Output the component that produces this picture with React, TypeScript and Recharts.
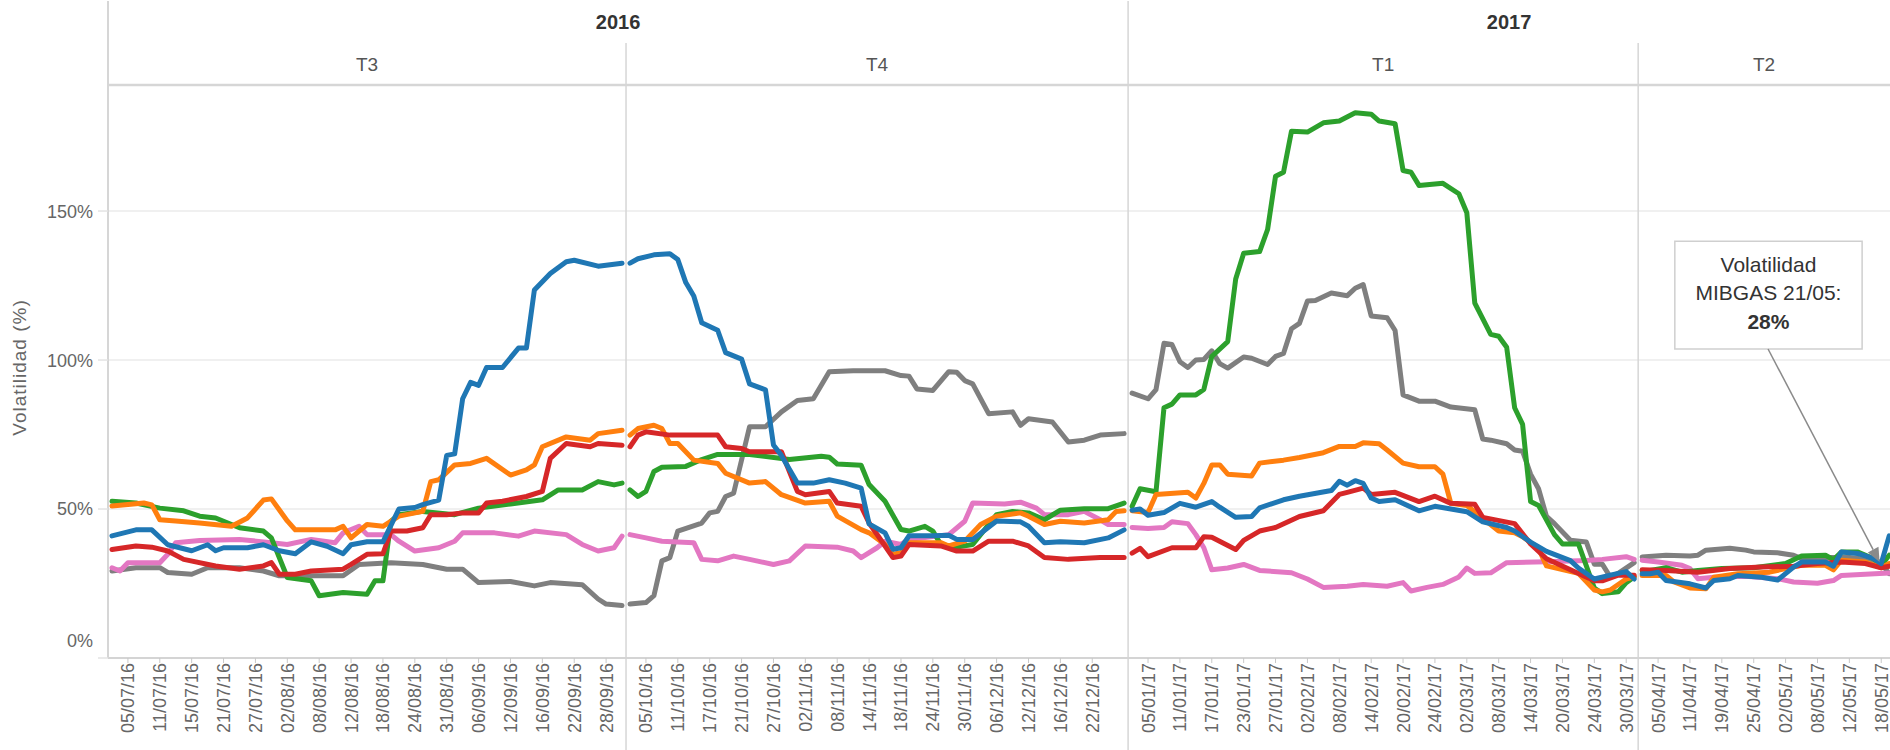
import React from 'react';
import { LineChart, Line, XAxis, YAxis, CartesianGrid, ReferenceLine, ReferenceArea } from 'recharts';

const FONT = '"Liberation Sans", Arial, sans-serif';

const years = ['2016', '2017'];
const quarters = ['T3', 'T4', 'T1', 'T2'];
// trading days (slots) shown in each quarter pane
const paneSizes = [65, 63, 64, 32];

const tickLabelsT3 = ['05/07/16', '11/07/16', '15/07/16', '21/07/16', '27/07/16', '02/08/16', '08/08/16', '12/08/16', '18/08/16', '24/08/16', '31/08/16', '06/09/16', '12/09/16', '16/09/16', '22/09/16', '28/09/16'];
const tickLabelsT4 = ['05/10/16', '11/10/16', '17/10/16', '21/10/16', '27/10/16', '02/11/16', '08/11/16', '14/11/16', '18/11/16', '24/11/16', '30/11/16', '06/12/16', '12/12/16', '16/12/16', '22/12/16'];
const tickLabelsT1 = ['05/01/17', '11/01/17', '17/01/17', '23/01/17', '27/01/17', '02/02/17', '08/02/17', '14/02/17', '20/02/17', '24/02/17', '02/03/17', '08/03/17', '14/03/17', '20/03/17', '24/03/17', '30/03/17'];
const tickLabelsT2 = ['05/04/17', '11/04/17', '19/04/17', '25/04/17', '02/05/17', '08/05/17', '12/05/17', '18/05/17'];

type Pt = [number, number];

// [slot within quarter, volatility %]
const blueT3: Pt[] = [[0, 41], [3, 43], [5, 43], [7, 38], [10, 36], [12, 38], [13, 36], [14, 37], [17, 37], [19, 38], [21, 36], [23, 35], [25, 39], [27, 37.5], [29, 35], [30, 38], [32, 39], [34, 39], [36, 50], [38, 50.5], [39, 51.5], [41, 53], [42, 68], [43, 68.5], [44, 87], [45, 92.5], [46, 91.5], [47, 97.5], [49, 97.5], [51, 104], [52, 104], [53, 123.5], [55, 129], [57, 133], [58, 133.5], [61, 131.5], [64, 132.5]];
const blueT4: Pt[] = [[0, 132.5], [1, 134], [3, 135.3], [5, 135.7], [6, 133.7], [7, 126], [8, 121.5], [9, 112.5], [11, 110], [12, 102.5], [14, 100.3], [15, 92], [17, 90], [18, 71.5], [19, 68], [21, 58.7], [23, 58.7], [25, 59.8], [27, 58.7], [29, 57], [30, 45], [32, 42], [33, 36.5], [34, 37], [35, 41], [38, 41], [40, 41.2], [41, 39.8], [43, 39.8], [46, 46], [49, 45.7], [50, 44.2], [52, 38.7], [54, 39], [57, 38.7], [60, 40.3], [62, 43]];
const blueT1: Pt[] = [[0, 49.6], [1, 50], [2, 47.9], [4, 48.8], [6, 51.9], [8, 50.6], [10, 52.5], [11, 50.6], [13, 47.2], [15, 47.5], [16, 50.4], [19, 53.1], [21, 54.3], [25, 56.2], [26, 59.3], [27, 58], [28, 59.5], [29, 58.6], [30, 53.7], [31, 52.5], [33, 53.1], [36, 49.4], [38, 50.9], [42, 49.1], [44, 45.7], [47, 43.8], [48, 42.6], [50, 38.9], [52, 35.8], [55, 32.7], [56, 30.2], [58, 26.5], [60, 27.8], [62, 29], [63, 26.5]];
const blueT2: Pt[] = [[0, 28.3], [1, 28.3], [2, 28.8], [3, 26], [6, 24.9], [8, 23.5], [9, 26], [11, 26.6], [12, 27.7], [15, 27.1], [17, 26.2], [19, 30.5], [20, 32.2], [23, 32.2], [24, 30.8], [25, 35.6], [27, 35.1], [29, 33.4], [30, 31.7], [31, 41]];

const orangeT3: Pt[] = [[0, 51], [4, 52], [5, 51.4], [6, 46.4], [8, 46], [11, 45.3], [15, 44.2], [17, 47], [19, 53], [20, 53.4], [22, 46], [23, 43], [28, 43], [29, 44.2], [30, 40.3], [32, 44.8], [34, 44.2], [36, 47.6], [39, 49.2], [40, 59.2], [41, 59.8], [43, 64.8], [45, 65.3], [47, 67], [50, 61.4], [52, 63.1], [53, 64.8], [54, 70.9], [57, 74.2], [60, 73.1], [61, 75.3], [64, 76.4]];
const orangeT4: Pt[] = [[0, 74.8], [1, 77], [3, 78.1], [4, 77], [5, 72], [6, 72], [8, 66.4], [11, 65.3], [12, 62], [15, 58.7], [17, 59.2], [19, 54.8], [22, 52], [25, 52.6], [26, 47.6], [29, 43.1], [30, 42], [32, 38.1], [33, 34.8], [34, 35.3], [35, 38.7], [39, 38.7], [40, 37.6], [42, 39.2], [44, 44.8], [46, 47.6], [49, 48.7], [50, 47.6], [52, 44.8], [54, 45.9], [57, 45.3], [60, 46.4], [61, 49.2], [62, 49.4]];
const orangeT1: Pt[] = [[0, 49.4], [2, 48.8], [3, 54.9], [7, 55.6], [8, 53.7], [9, 58.6], [10, 64.8], [11, 64.8], [12, 61.7], [15, 61.1], [16, 65.4], [19, 66.4], [21, 67.3], [24, 68.9], [26, 71], [28, 71], [29, 72.2], [31, 71.9], [32, 69.8], [34, 65.4], [36, 64.2], [38, 64.2], [39, 61.7], [40, 51.9], [42, 51.2], [44, 46.9], [46, 42.6], [48, 42], [49, 40.7], [51, 36.8], [52, 30.9], [56, 28.4], [58, 22.8], [59, 22.2], [60, 22.8], [62, 26.5], [63, 27.2]];
const orangeT2: Pt[] = [[0, 27.7], [3, 27.7], [4, 25.5], [6, 23.5], [8, 23.2], [9, 27.1], [12, 28.3], [16, 28.8], [18, 30], [20, 31.1], [23, 31.1], [24, 29.6], [25, 32.8], [28, 32.2], [30, 30.3], [31, 31.7]];

const greenT3: Pt[] = [[0, 52.6], [3, 52], [6, 50.3], [9, 49.4], [11, 47.6], [13, 47], [16, 43.7], [19, 42.6], [20, 40.3], [22, 27], [25, 25.9], [26, 20.9], [29, 22], [32, 21.4], [33, 25.9], [34, 25.9], [35, 45.9], [36, 48.1], [39, 49.2], [43, 48.1], [46, 50.3], [50, 51.7], [54, 53.1], [56, 56.4], [59, 56.4], [61, 59.2], [63, 58.1], [64, 58.7]];
const greenT4: Pt[] = [[0, 56.4], [1, 54.2], [2, 55.9], [3, 62.6], [4, 64], [7, 64.3], [9, 66.6], [11, 68.3], [15, 68.3], [20, 66.6], [24, 67.7], [25, 67.4], [26, 65.1], [29, 64.7], [30, 58.2], [32, 52.6], [34, 43.1], [35, 42.6], [37, 44.2], [38, 42.6], [39, 38.1], [41, 37.2], [43, 38.1], [46, 48.1], [48, 49.2], [50, 48.7], [52, 46.4], [54, 49.6], [57, 50.1], [60, 50.1], [62, 52]];
const greenT1: Pt[] = [[0, 50.9], [1, 56.8], [3, 55.8], [4, 84], [5, 85.2], [6, 88.3], [8, 88.3], [9, 90.1], [10, 101.2], [12, 106.2], [13, 127.2], [14, 135.8], [16, 136.4], [17, 143.8], [18, 161.7], [19, 163], [20, 176.8], [22, 176.5], [24, 179.6], [26, 180.2], [28, 183], [30, 182.5], [31, 180.2], [33, 179.3], [34, 163.6], [35, 163], [36, 158.6], [39, 159.3], [41, 155.8], [42, 149.4], [43, 119.1], [45, 108.6], [46, 108], [47, 104.3], [48, 84], [49, 78.4], [50, 52.5], [51, 51.2], [53, 41.4], [54, 38.3], [56, 38.3], [58, 23.5], [59, 21.6], [61, 22.2], [62, 25.3], [63, 27.2]];
const greenT2: Pt[] = [[0, 29.4], [1, 29.4], [3, 30.3], [5, 28.8], [7, 29.4], [10, 30], [14, 30.3], [18, 31.7], [20, 34.2], [23, 34.5], [24, 33], [25, 35.6], [27, 35.6], [29, 33.4], [30, 31.1], [31, 34.5]];

const redT3: Pt[] = [[0, 36.4], [3, 37.6], [5, 37.2], [7, 35.9], [9, 33.1], [13, 30.9], [16, 29.8], [19, 30.9], [20, 32], [21, 28.1], [23, 28.1], [25, 29.2], [29, 29.8], [30, 31.4], [32, 34.8], [34, 35], [35, 42.6], [37, 42.6], [39, 43.7], [40, 48.1], [42, 48.1], [44, 48.7], [46, 48.7], [47, 52], [49, 52.6], [52, 54.2], [54, 55.9], [55, 67], [57, 72], [60, 70.9], [61, 72], [64, 71.4]];
const redT4: Pt[] = [[0, 70.9], [1, 74.8], [2, 75.9], [5, 74.8], [11, 74.8], [12, 70.9], [14, 70.3], [15, 69.2], [19, 69.2], [21, 55.9], [22, 54.8], [25, 55.9], [26, 52], [29, 50.9], [30, 45.3], [32, 37.6], [33, 33.7], [34, 34.2], [35, 38.1], [39, 37.6], [41, 35.9], [43, 35.9], [45, 39.2], [48, 39.2], [50, 37.6], [52, 33.7], [55, 33.1], [59, 33.7], [62, 33.7]];
const redT1: Pt[] = [[0, 35.2], [1, 36.8], [2, 34], [5, 37], [8, 37], [9, 40.7], [10, 40.5], [13, 36.4], [14, 39.5], [16, 42.6], [18, 43.8], [21, 47.5], [24, 49.4], [26, 54.9], [27, 55.6], [29, 57], [30, 54.9], [33, 55.6], [36, 52.5], [38, 54.3], [40, 51.9], [43, 51.6], [44, 47.2], [48, 45.1], [50, 38.3], [52, 33.3], [55, 29.6], [58, 25.9], [59, 25.9], [61, 27.8], [63, 27.8]];
const redT2: Pt[] = [[0, 29.6], [3, 29.4], [7, 28.8], [11, 30], [15, 30.5], [19, 30.8], [22, 31.7], [25, 32.2], [28, 31.7], [30, 30.3], [31, 30.8]];

const pinkT3: Pt[] = [[0, 30.3], [1, 29.2], [2, 32], [6, 32], [7, 34.8], [8, 38.7], [11, 39.4], [16, 39.8], [20, 38.7], [22, 38.1], [25, 39.8], [28, 38.7], [29, 42], [31, 44.2], [32, 41.4], [35, 41.4], [36, 39.2], [38, 35.9], [41, 37], [43, 39.2], [44, 42], [48, 42], [51, 40.9], [53, 42.6], [57, 41.4], [59, 38.1], [61, 35.9], [63, 37], [64, 40.9]];
const pinkT4: Pt[] = [[0, 41.4], [2, 40.3], [4, 39.2], [8, 38.7], [9, 33.1], [11, 32.6], [13, 34.2], [15, 33.1], [18, 31.4], [20, 32.6], [22, 37.6], [26, 37.2], [28, 35.9], [29, 33.7], [31, 37], [32, 39.2], [34, 38.1], [35, 39.8], [40, 41.4], [42, 45.9], [43, 52], [47, 51.7], [49, 52.3], [51, 50.3], [52, 48.1], [55, 48.1], [57, 49.2], [59, 46.4], [60, 44.8], [62, 44.8]];
const pinkT1: Pt[] = [[0, 43.8], [2, 43.5], [4, 43.8], [5, 45.7], [7, 45.1], [8, 41.4], [9, 37], [10, 29.6], [12, 30.2], [14, 31.4], [16, 29.4], [20, 28.6], [22, 26.5], [24, 23.7], [27, 24.1], [29, 24.7], [32, 24.1], [34, 25.3], [35, 22.5], [37, 23.7], [39, 24.7], [41, 27.2], [42, 30.2], [43, 28.4], [45, 28.6], [47, 32], [52, 32.3], [57, 32.7], [59, 33.1], [62, 34], [63, 33.1]];
const pinkT2: Pt[] = [[0, 32.8], [2, 32.2], [5, 31.1], [6, 30], [7, 26.6], [9, 27.1], [13, 27.4], [17, 26.6], [19, 25.5], [22, 25.1], [24, 26], [25, 27.7], [28, 28.1], [31, 28.5]];

const greyT3: Pt[] = [[0, 29.2], [3, 30.3], [6, 30.3], [7, 28.7], [10, 28.1], [12, 30.3], [16, 30.3], [19, 29.2], [21, 27.6], [29, 27.6], [31, 31.4], [35, 32], [39, 31.4], [42, 29.8], [44, 29.8], [46, 25.3], [50, 25.7], [53, 24.2], [55, 25.3], [59, 24.6], [61, 19.8], [62, 18.1], [64, 17.6]];
const greyT4: Pt[] = [[0, 18.1], [2, 18.6], [3, 20.9], [4, 32.6], [5, 33.7], [6, 42.6], [9, 45.3], [10, 48.7], [11, 49.2], [12, 54.2], [13, 55.3], [15, 77.6], [17, 77.6], [19, 82.6], [21, 86.4], [23, 87], [25, 96.1], [28, 96.4], [32, 96.4], [34, 94.8], [35, 94.6], [36, 90.3], [38, 89.8], [40, 96.1], [41, 95.9], [42, 93.1], [43, 92], [45, 82], [48, 82.6], [49, 78.1], [50, 80.3], [53, 79.2], [55, 72.5], [57, 73.1], [59, 74.8], [62, 75.3]];
const greyT1: Pt[] = [[0, 88.9], [2, 87], [3, 90.1], [4, 105.6], [5, 105.2], [6, 99.4], [7, 97.5], [8, 100], [9, 100.2], [10, 103.1], [11, 98.8], [12, 97.3], [14, 101], [15, 100.6], [17, 98.5], [18, 101.2], [19, 102.2], [20, 110.5], [21, 112.3], [22, 119.8], [23, 120], [25, 122.5], [27, 121.6], [28, 124.1], [29, 125.3], [30, 114.8], [32, 114.2], [33, 109.9], [34, 88.3], [36, 86.2], [38, 86.2], [40, 84.2], [43, 83.3], [44, 73.5], [45, 73.1], [47, 71.9], [48, 69.8], [49, 69.4], [50, 61.7], [51, 56.8], [52, 47.5], [53, 45.1], [55, 39.5], [57, 38.9], [58, 31.5], [59, 31.5], [60, 27.2], [61, 28.4], [63, 32]];
const greyT2: Pt[] = [[0, 33.9], [3, 34.5], [6, 34.2], [7, 34.5], [8, 36.2], [11, 36.8], [13, 36.2], [14, 35.6], [17, 35.3], [19, 34.5], [20, 33.4], [23, 33.7], [26, 33.7], [29, 32.8], [30, 31.7], [31, 28.3]];

const Y_MAX = 192.3;
const Y_QROW = 206.4;
const Y_TOP = 220.5;
const Y_BOTTOM = -31;
const X_MIN = -0.5;
const X_MAX = 223.1;

const paneStart = paneSizes.map((_, i) => paneSizes.slice(0, i).reduce((a, b) => a + b, 0));
const paneEdges = paneSizes.map((n, i) => [paneStart[i] - 0.5, Math.min(paneStart[i] + n - 0.5, X_MAX)]);

// one row per point, with a null at every quarter edge so the line breaks like the original
const buildSeries = (panes: Pt[][]) => {
  const out: { x: number; v: number | null }[] = [];
  panes.forEach((pts, p) => {
    pts.forEach(([s, v]) => out.push({ x: paneStart[p] + s, v }));
    if (p < panes.length - 1) out.push({ x: paneStart[p + 1] - 0.5, v: null });
  });
  return out;
};

const series = [
  { name: 'grey', color: '#7f7f7f', data: buildSeries([greyT3, greyT4, greyT1, greyT2]) },
  { name: 'pink', color: '#e377c2', data: buildSeries([pinkT3, pinkT4, pinkT1, pinkT2]) },
  { name: 'green', color: '#2ca02c', data: buildSeries([greenT3, greenT4, greenT1, greenT2]) },
  { name: 'orange', color: '#ff7f0e', data: buildSeries([orangeT3, orangeT4, orangeT1, orangeT2]) },
  { name: 'red', color: '#d62728', data: buildSeries([redT3, redT4, redT1, redT2]) },
  { name: 'blue', color: '#1f77b4', data: buildSeries([blueT3, blueT4, blueT1, blueT2]) },
];

const tickMap = new Map<number, string>();
[tickLabelsT3, tickLabelsT4, tickLabelsT1, tickLabelsT2].forEach((labels, p) =>
  labels.forEach((l, k) => tickMap.set(paneStart[p] + 2 + 4 * k, l))
);
const xTicks = Array.from(tickMap.keys());

const XTick = (props: any) => {
  const { x, y, payload } = props;
  return (
    <text
      transform={`translate(${x},${y}) rotate(-90)`}
      textAnchor="end"
      dy="0.36em"
      fill="#666"
      fontSize={18}
      fontFamily={FONT}
    >
      {tickMap.get(payload.value)}
    </text>
  );
};

const YTick = (props: any) => {
  const { x, y, payload } = props;
  const shift = payload.value === 0 ? -17 : 0; // Tableau lifts the 0% label off the axis
  return (
    <text x={x} y={y + shift} dy="0.36em" textAnchor="end" fill="#666" fontSize={18} fontFamily={FONT}>
      {payload.value}%
    </text>
  );
};

const YTitle = (props: any) => {
  const { viewBox } = props;
  const cx = viewBox.x + 11;
  const cy = viewBox.y + viewBox.height / 2 - 4;
  return (
    <text x={cx} y={cy} transform={`rotate(-90, ${cx}, ${cy})`} textAnchor="middle" dy="0.36em" fill="#666" fontSize={19} letterSpacing={1} fontFamily={FONT}>
      Volatilidad (%)
    </text>
  );
};

const NoteText = (props: any) => {
  const { viewBox } = props;
  const cx = viewBox.x + viewBox.width / 2;
  const top = viewBox.y;
  return (
    <text textAnchor="middle" fontFamily={FONT} fontSize={21} fill="#333">
      <tspan x={cx} y={top + 31}>Volatilidad</tspan>
      <tspan x={cx} y={top + 59}>MIBGAS 21/05:</tspan>
      <tspan x={cx} y={top + 88} fontWeight="bold">28%</tspan>
    </text>
  );
};

const Arrow = (props: any) => {
  const { x1, y1, x2, y2 } = props;
  const a = Math.atan2(y2 - y1, x2 - x1);
  const len = 14;
  const half = 6;
  const bx = x2 - len * Math.cos(a);
  const by = y2 - len * Math.sin(a);
  const pts = `${x2},${y2} ${bx + half * Math.sin(a)},${by - half * Math.cos(a)} ${bx - half * Math.sin(a)},${by + half * Math.cos(a)}`;
  return (
    <g>
      <line x1={x1} y1={y1} x2={bx} y2={by} stroke="#8a8a8a" strokeWidth={1.5} />
      <polygon points={pts} fill="#8a8a8a" />
    </g>
  );
};

const divider = '#d6d6d6';

export default function App() {
  return (
    <div style={{ position: 'absolute', left: 0, top: 0, background: '#fff' }}>
      <LineChart width={1890} height={750} margin={{ top: 85, right: 0, bottom: 0, left: 8 }} style={{ fontFamily: FONT }}>
        <CartesianGrid vertical={false} stroke="#ebebeb" strokeWidth={1.5} />
        <XAxis
          dataKey="x"
          type="number"
          domain={[X_MIN, X_MAX]}
          allowDataOverflow
          ticks={xTicks}
          interval={0}
          height={92}
          tick={<XTick />}
          tickSize={5}
          tickMargin={0}
          axisLine={{ stroke: '#d4d4d4', strokeWidth: 2 }}
          tickLine={{ stroke: '#c8c8c8' }}
        />
        <YAxis
          type="number"
          domain={[0, Y_MAX]}
          allowDataOverflow
          ticks={[0, 50, 100, 150]}
          width={100}
          tick={<YTick />}
          tickSize={10}
          tickMargin={5}
          axisLine={{ stroke: divider, strokeWidth: 2 }}
          tickLine={{ stroke: '#e3e3e3', strokeWidth: 1.5 }}
          label={{ content: YTitle }}
        />

        {/* header rows: years on top, quarters below */}
        {years.map((yr, i) => (
          <ReferenceArea
            key={yr}
            x1={i === 0 ? paneEdges[0][0] : paneEdges[2][0]}
            x2={i === 0 ? paneEdges[1][1] : paneEdges[3][1]}
            y1={Y_QROW}
            y2={Y_TOP}
            ifOverflow="visible"
            fill="none"
            label={{ value: yr, position: 'center', fill: '#333', fontSize: 20, fontWeight: 'bold', fontFamily: FONT }}
          />
        ))}
        {quarters.map((q, i) => (
          <ReferenceArea
            key={q}
            x1={paneEdges[i][0]}
            x2={paneEdges[i][1]}
            y1={Y_MAX}
            y2={Y_QROW}
            ifOverflow="visible"
            fill="none"
            label={{ value: q, position: 'center', fill: '#555', fontSize: 19, fontFamily: FONT }}
          />
        ))}
        <ReferenceLine y={Y_MAX} stroke={divider} strokeWidth={2.5} ifOverflow="visible" />
        <ReferenceLine segment={[{ x: X_MIN, y: Y_TOP }, { x: X_MIN, y: Y_MAX }]} stroke={divider} strokeWidth={2} ifOverflow="visible" />
        <ReferenceLine segment={[{ x: paneEdges[1][0], y: Y_QROW }, { x: paneEdges[1][0], y: Y_BOTTOM }]} stroke={divider} strokeWidth={1.5} ifOverflow="visible" />
        <ReferenceLine segment={[{ x: paneEdges[2][0], y: Y_TOP }, { x: paneEdges[2][0], y: Y_BOTTOM }]} stroke={divider} strokeWidth={1.5} ifOverflow="visible" />
        <ReferenceLine segment={[{ x: paneEdges[3][0], y: Y_QROW }, { x: paneEdges[3][0], y: Y_BOTTOM }]} stroke={divider} strokeWidth={1.5} ifOverflow="visible" />

        {series.map(s => (
          <Line
            key={s.name}
            data={s.data}
            dataKey="v"
            type="linear"
            stroke={s.color}
            strokeWidth={5}
            strokeLinejoin="round"
            strokeLinecap="round"
            dot={false}
            activeDot={false}
            connectNulls={false}
            isAnimationActive={false}
          />
        ))}

        {/* annotation box and pointer */}
        <ReferenceArea
          x1={196.1}
          x2={219.6}
          y1={103.7}
          y2={139.9}
          ifOverflow="visible"
          fill="#fff"
          fillOpacity={1}
          stroke="#cfcfcf"
          strokeWidth={1.5}
          label={{ content: NoteText }}
        />
        <ReferenceLine
          segment={[{ x: 207.8, y: 103.7 }, { x: 221.8, y: 32.2 }]}
          ifOverflow="visible"
          shape={Arrow}
        />
      </LineChart>
    </div>
  );
}
